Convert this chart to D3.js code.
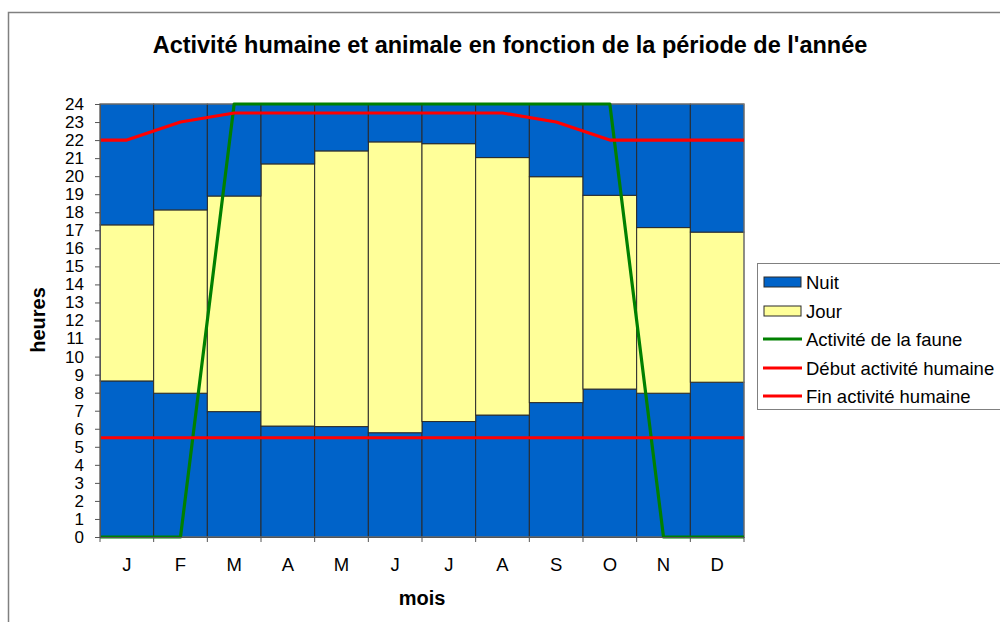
<!DOCTYPE html>
<html><head><meta charset="utf-8">
<script src="https://cdn.jsdelivr.net/npm/d3@7"></script>
<style>
body{margin:0;background:#fff;}
svg{display:block;font-family:"Liberation Sans",Arial,sans-serif;}
</style></head>
<body><svg id="c" width="1000" height="622"></svg>
<script>
const months = ["J","F","M","A","M","J","J","A","S","O","N","D"];
const yTicks = d3.range(0, 25, 1);
// stacked segments (hours)
const nuitMatin = [8.65, 7.97, 6.95, 6.15, 6.12, 5.78, 6.40, 6.76, 7.45, 8.20, 7.97, 8.58];
const jour      = [8.65, 10.16, 11.95, 14.53, 15.28, 16.12, 15.40, 14.27, 12.52, 10.74, 9.18, 8.32];
const nuitSoir  = [6.70, 5.87, 5.10, 3.32, 2.60, 2.10, 2.20, 2.97, 4.03, 5.06, 6.85, 7.10];
// lines
const faune  = [0, 0, 24, 24, 24, 24, 24, 24, 24, 24, 0, 0];
const debutH = [5.5, 5.5, 5.5, 5.5, 5.5, 5.5, 5.5, 5.5, 5.5, 5.5, 5.5, 5.5];
const finH   = [22, 23, 23.5, 23.5, 23.5, 23.5, 23.5, 23.5, 23, 22, 22, 22];

const title = "Activité humaine et animale en fonction de la période de l'année";
const legendItems = [
  {label:"Nuit", type:"rect", color:"#0063C9"},
  {label:"Jour", type:"rect", color:"#FFFF99"},
  {label:"Activité de la faune", type:"line", color:"#008000"},
  {label:"Début activité humaine", type:"line", color:"#FF0000"},
  {label:"Fin activité humaine", type:"line", color:"#FF0000"}
];

const svg = d3.select("#c");
const L = 100, R = 744, T = 104, B = 537;
const idx = months.map((d,i)=>i);
const x = d3.scaleBand().domain(idx).range([L, R]).padding(0);
const y = d3.scaleLinear().domain([0, 24]).range([B, T]);

// outer chart border
svg.append("rect").attr("x", 8.5).attr("y", 12.5).attr("width", 1200).attr("height", 1200)
  .attr("fill", "#fff").attr("stroke", "#808080").attr("stroke-width", 1.5);

// title
svg.append("text").attr("x", 510).attr("y", 53).attr("text-anchor", "middle")
  .attr("font-size", 23.5).attr("font-weight", "bold").attr("fill", "#000").text(title);

// stacked bars
const stackRows = idx.map(i => ({i, a: nuitMatin[i], b: jour[i], c: nuitSoir[i]}));
const series = d3.stack().keys(["a","b","c"])(stackRows);
const fills = {a:"#0063C9", b:"#FFFF99", c:"#0063C9"};
svg.append("g").selectAll("g").data(series).join("g")
  .attr("fill", s => fills[s.key])
  .selectAll("rect").data(s => s).join("rect")
  .attr("x", d => x(d.data.i))
  .attr("width", x.bandwidth())
  .attr("y", d => y(d[1]))
  .attr("height", d => y(d[0]) - y(d[1]))
  .attr("stroke", "#2a2a2a").attr("stroke-width", 1);

// plot area border
svg.append("rect").attr("x", L).attr("y", T).attr("width", R - L).attr("height", B - T)
  .attr("fill", "none").attr("stroke", "#888").attr("stroke-width", 1);

// lines
const lineGen = d3.line().x(d => d[0]).y(d => y(d[1]));
function pts(vals){
  const p = [[L, vals[0]]];
  vals.forEach((v,i) => p.push([x(i) + x.bandwidth()/2, v]));
  p.push([R, vals[vals.length-1]]);
  return p;
}
[[faune,"#008000"],[debutH,"#FF0000"],[finH,"#FF0000"]].forEach(([vals,col]) => {
  svg.append("path").attr("d", lineGen(pts(vals))).attr("fill","none")
    .attr("stroke", col).attr("stroke-width", 3.2).attr("stroke-linejoin","round");
});

// y axis
const yAxis = svg.append("g").attr("transform", `translate(${L},0)`)
  .call(d3.axisLeft(y).tickValues(yTicks).tickSize(5).tickPadding(11).tickFormat(d3.format("d")));
yAxis.select(".domain").attr("stroke", "#555");
yAxis.selectAll(".tick line").attr("stroke", "#555");
yAxis.selectAll("text").attr("font-size", 17).attr("fill", "#000")
  .attr("font-family", "'Liberation Sans',Arial,sans-serif");

// x axis
const xAxis = svg.append("g").attr("transform", `translate(0,${B})`)
  .call(d3.axisBottom(x).tickSize(0).tickPadding(21).tickFormat(i => months[i]));
xAxis.select(".domain").attr("stroke", "#555");
xAxis.selectAll("text").attr("font-size", 18.5).attr("fill", "#000")
  .attr("font-family", "'Liberation Sans',Arial,sans-serif");
// x tick marks at band boundaries
svg.append("g").selectAll("line").data(idx.concat([12])).join("line")
  .attr("x1", i => i < 12 ? x(i) : R).attr("x2", i => i < 12 ? x(i) : R)
  .attr("y1", B).attr("y2", B + 5).attr("stroke", "#555");

// axis titles
svg.append("text").attr("x", 422).attr("y", 605).attr("text-anchor","middle")
  .attr("font-size", 20).attr("font-weight","bold").text("mois");
svg.append("text").attr("transform", "translate(45,320) rotate(-90)").attr("text-anchor","middle")
  .attr("font-size", 20).attr("font-weight","bold").text("heures");

// legend
const lg = svg.append("g");
lg.append("rect").attr("x", 757.5).attr("y", 263.5).attr("width", 260).attr("height", 146)
  .attr("fill","#fff").attr("stroke","#808080").attr("stroke-width",1);
const ly = [282, 311, 339, 368, 396];
legendItems.forEach((it, k) => {
  const g = lg.append("g");
  if (it.type === "rect") {
    g.append("rect").attr("x", 764).attr("y", ly[k]-5).attr("width", 37).attr("height", 10)
      .attr("fill", it.color).attr("stroke", "#2a2a2a").attr("stroke-width", 1);
  } else {
    g.append("line").attr("x1", 763).attr("x2", 802).attr("y1", ly[k]).attr("y2", ly[k])
      .attr("stroke", it.color).attr("stroke-width", 3.2);
  }
  g.append("text").attr("x", 806).attr("y", ly[k] + 6.5).attr("font-size", 18.5)
    .attr("fill","#000").text(it.label);
});
</script></body></html>
